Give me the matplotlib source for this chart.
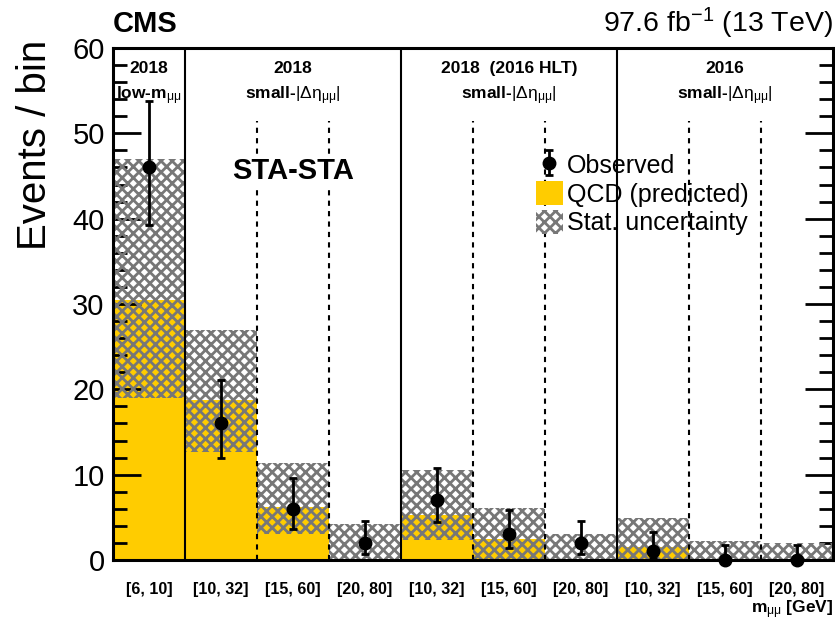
import numpy as np
import matplotlib.pyplot as plt
from matplotlib.patches import Patch

plt.rcParams['font.family'] = ['Liberation Sans', 'DejaVu Sans']
plt.rcParams['mathtext.fontset'] = 'custom'
plt.rcParams['mathtext.rm'] = 'Liberation Sans'
plt.rcParams['mathtext.it'] = 'Liberation Sans:italic'
plt.rcParams['mathtext.bf'] = 'Liberation Sans:bold'
plt.rcParams['hatch.linewidth'] = 2.0

# bin labels (mass windows in GeV)
bin_labels = ['[6, 10]', '[10, 32]', '[15, 60]', '[20, 80]', '[10, 32]',
              '[15, 60]', '[20, 80]', '[10, 32]', '[15, 60]', '[20, 80]']
# QCD prediction and its stat. uncertainty band
qcd = [30.5, 18.8, 6.2, 0.0, 5.3, 2.5, 0.0, 1.5, 0.0, 0.0]
unc_lo = [19.0, 12.7, 3.1, 0.0, 2.4, 0.0, 0.0, 0.0, 0.0, 0.0]
unc_hi = [47.0, 27.0, 11.4, 4.2, 10.6, 6.1, 3.0, 4.9, 2.2, 1.95]
# observed counts and asymmetric errors
obs = [46, 16, 6, 2, 7, 3, 2, 1, 0, 0]
obs_err_lo = [6.8, 4.0, 2.4, 1.3, 2.6, 1.6, 1.3, 0.8, 0.0, 0.0]
obs_err_hi = [7.8, 5.1, 3.6, 2.6, 3.8, 2.9, 2.6, 2.3, 1.8, 1.8]
# region headers: (first bin, last bin, line1, line2)
sub_mm = r'$_{\mathrm{μμ}}$'
deta = r'$|\Delta\mathrm{η}_{\mathrm{μμ}}|$'
regions = [(0, 0, '2018', 'low-m' + sub_mm),
           (1, 3, '2018', 'small-' + deta),
           (4, 6, '2018  (2016 HLT)', 'small-' + deta),
           (7, 9, '2016', 'small-' + deta)]

yellow = '#ffcc00'
grey = '#777777'

fig = plt.figure(figsize=(8.35, 6.21), dpi=100)
ax = fig.add_axes([113/835, 1-560/621, 720/835, 512/621])

n = len(obs)
x = np.arange(n) + 0.5

ax.bar(x, qcd, width=1.0, color=yellow, linewidth=0, zorder=1)
ax.bar(x, np.array(unc_hi) - np.array(unc_lo), bottom=unc_lo, width=1.0,
       fill=False, hatch='xxx', edgecolor=grey, linewidth=0, zorder=2)

# region separators
for first, last, l1, l2 in regions:
    if first > 0:
        ax.axvline(first, color='black', lw=1.5, zorder=3)
    for b in range(first + 1, last + 1):
        ax.plot([b, b], [0, 51.5], color='black', lw=1.5, ls=(0, (2.5, 2.5)), zorder=3)
    xc = (first + last + 1) / 2
    ax.text(xc, 57.6, l1, ha='center', va='center', fontsize=12.5, fontweight='bold')
    ax.text(xc, 54.4, l2, ha='center', va='center', fontsize=12.5, fontweight='bold')

ax.errorbar(x, obs, yerr=[obs_err_lo, obs_err_hi], fmt='o', color='black',
            markersize=9, elinewidth=2, capsize=3, capthick=2, zorder=5,
            clip_on=False, label='Observed')

ax.text(2.5, 45.6, 'STA-STA', ha='center', va='center', fontsize=21, fontweight='bold',
        zorder=4, bbox=dict(facecolor='white', edgecolor='none', pad=2))

handles = [ax.get_legend_handles_labels()[0][0],
           Patch(facecolor=yellow, edgecolor='none'),
           Patch(facecolor='white', edgecolor=grey, hatch='xxx', linewidth=0)]
ax.legend(handles, ['Observed', 'QCD (predicted)', 'Stat. uncertainty'],
          loc='upper left', bbox_to_anchor=(0.573, 0.815), frameon=False,
          fontsize=18, handlelength=1.1, handleheight=1.1, handletextpad=0.15,
          labelspacing=0.12, borderaxespad=0)

ax.set_xlim(0, n)
ax.set_ylim(0, 60)
ax.set_xticks(x)
ax.set_xticklabels(bin_labels, fontsize=11.5, fontweight='bold')
ax.tick_params(axis='x', length=0, pad=16)
ax.set_yticks(np.arange(0, 61, 10))
ax.set_yticks(np.arange(0, 61, 2), minor=True)
ax.tick_params(axis='y', which='major', direction='in', length=20, width=2,
               right=True, labelsize=21, pad=6)
ax.tick_params(axis='y', which='minor', direction='in', length=10, width=2, right=True)
for s in ax.spines.values():
    s.set_linewidth(2.2)

fig.text(0.042, 1-40/621, 'Events / bin', rotation=90, ha='center', va='top', fontsize=29)
fig.text(113/835, 1-32/621, 'CMS', ha='left', va='baseline', fontsize=21, fontweight='bold')
fig.text(833/835, 1-32/621, r'97.6 fb$^{\mathrm{-1}}$ (13 TeV)', ha='right', va='baseline',
         fontsize=20.5)
fig.text(833/835, 1-613/621, 'm' + sub_mm + ' [GeV]', ha='right', va='baseline',
         fontsize=12.5, fontweight='bold')

fig.savefig('out.png', dpi=100)
